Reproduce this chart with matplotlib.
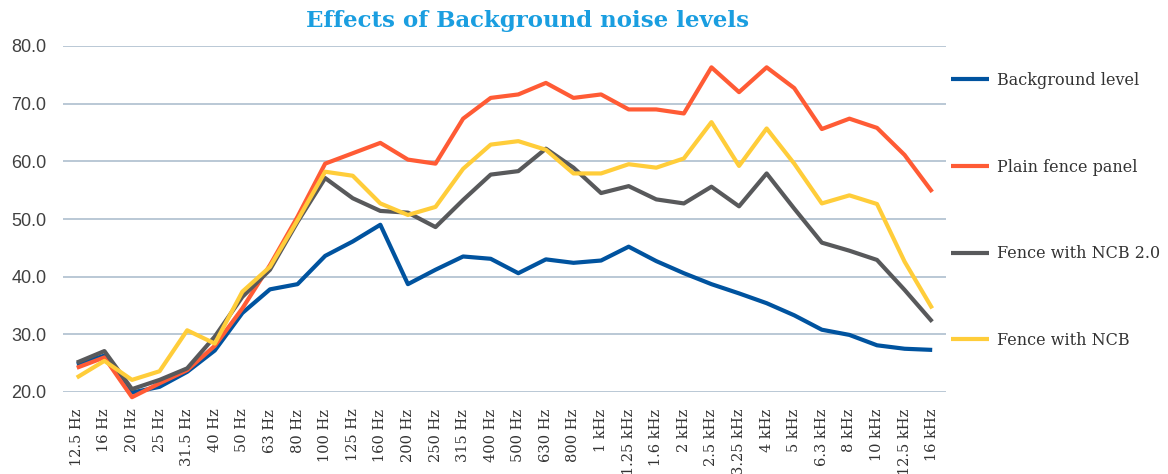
import matplotlib
matplotlib.use("Agg")
import matplotlib.pyplot as plt
import numpy as np

# Third-octave bands
BANDS = ["12.5 Hz", "16 Hz", "20 Hz", "25 Hz", "31.5 Hz", "40 Hz", "50 Hz", "63 Hz",
         "80 Hz", "100 Hz", "125 Hz", "160 Hz", "200 Hz", "250 Hz", "315 Hz", "400 Hz",
         "500 Hz", "630 Hz", "800 Hz", "1 kHz", "1.25 kHz", "1.6 kHz", "2 kHz", "2.5 kHz",
         "3.25 kHz", "4 kHz", "5 kHz", "6.3 kHz", "8 kHz", "10 kHz", "12.5 kHz", "16 kHz"]

# Levels
background = [24.8, 26.3, 19.9, 20.9, 23.5, 27.2, 33.7, 37.8, 38.7, 43.6, 46.1, 49.0,
              38.7, 41.2, 43.5, 43.1, 40.6, 43.0, 42.4, 42.8, 45.2, 42.7, 40.6, 38.7,
              37.1, 35.4, 33.3, 30.8, 29.9, 28.1, 27.5, 27.3]
plain_fence = [24.2, 26.0, 19.1, 21.5, 23.8, 28.0, 34.5, 42.0, 50.4, 59.6, 61.4, 63.2,
               60.3, 59.6, 67.4, 71.0, 71.6, 73.6, 71.0, 71.6, 69.0, 69.0, 68.3, 76.3,
               72.0, 76.3, 72.7, 65.6, 67.4, 65.8, 61.1, 54.7]
ncb_2 = [25.1, 27.1, 20.5, 22.1, 24.1, 29.6, 36.5, 41.2, 49.5, 57.1, 53.6, 51.4,
         51.1, 48.6, 53.3, 57.7, 58.3, 62.2, 58.9, 54.5, 55.7, 53.4, 52.7, 55.6,
         52.2, 57.9, 51.8, 45.9, 44.5, 42.9, 37.7, 32.2]
ncb = [22.5, 25.4, 22.1, 23.6, 30.7, 28.4, 37.4, 41.7, 49.8, 58.2, 57.5, 52.7,
       50.7, 52.1, 58.7, 62.9, 63.5, 62.0, 57.9, 57.9, 59.5, 58.9, 60.5, 66.8,
       59.2, 65.7, 59.6, 52.7, 54.1, 52.6, 42.6, 34.5]

SERIES = [
    ("Background level", background, "#00539f"),
    ("Plain fence panel", plain_fence, "#ff5b35"),
    ("Fence with NCB 2.0", ncb_2, "#58595b"),
    ("Fence with NCB", ncb, "#ffcd3a"),
]

fig = plt.figure(figsize=(11.68, 4.74), dpi=100)
ax = fig.add_axes([63 / 1168, 1 - 392 / 474, (946 - 63) / 1168, (392 - 46) / 474])

x = np.arange(len(BANDS))
for label, values, color in SERIES:
    ax.plot(x, values, color=color, lw=3, label=label, solid_capstyle="butt", clip_on=False)

ax.set_xlim(-0.5, len(BANDS) - 0.5)
ax.set_ylim(20, 80)
ax.set_yticks(np.arange(20, 81, 10))
ax.set_yticklabels([f"{v:.1f}" for v in np.arange(20, 81, 10)],
                   fontsize=13, color="#404040", family="Liberation Sans")
ax.set_xticks(x)
ax.set_xticklabels(BANDS, rotation=90, fontsize=10.5, color="#333333", family="DejaVu Serif")
ax.tick_params(axis="both", length=0)
ax.tick_params(axis="y", pad=12)
ax.tick_params(axis="x", pad=12)

ax.grid(axis="y", color="#b4c4d2", lw=1.3)
ax.set_axisbelow(True)
for s in ax.spines.values():
    s.set_visible(False)

fig.text(528 / 1168, 1 - 21 / 474, "Effects of Background noise levels", ha="center", va="center",
         fontsize=16.5, fontweight="bold", color="#1a9ee0", family="DejaVu Serif")

leg = fig.legend(loc="upper left", bbox_to_anchor=(951 / 1168, 1 - 72 / 474), frameon=False,
                 labelspacing=4.36, handlelength=2.4, handletextpad=0.45,
                 borderpad=0, borderaxespad=0, prop={"family": "DejaVu Serif", "size": 11.5})
for t in leg.get_texts():
    t.set_color("#333333")

fig.savefig("out.png", dpi=100)
